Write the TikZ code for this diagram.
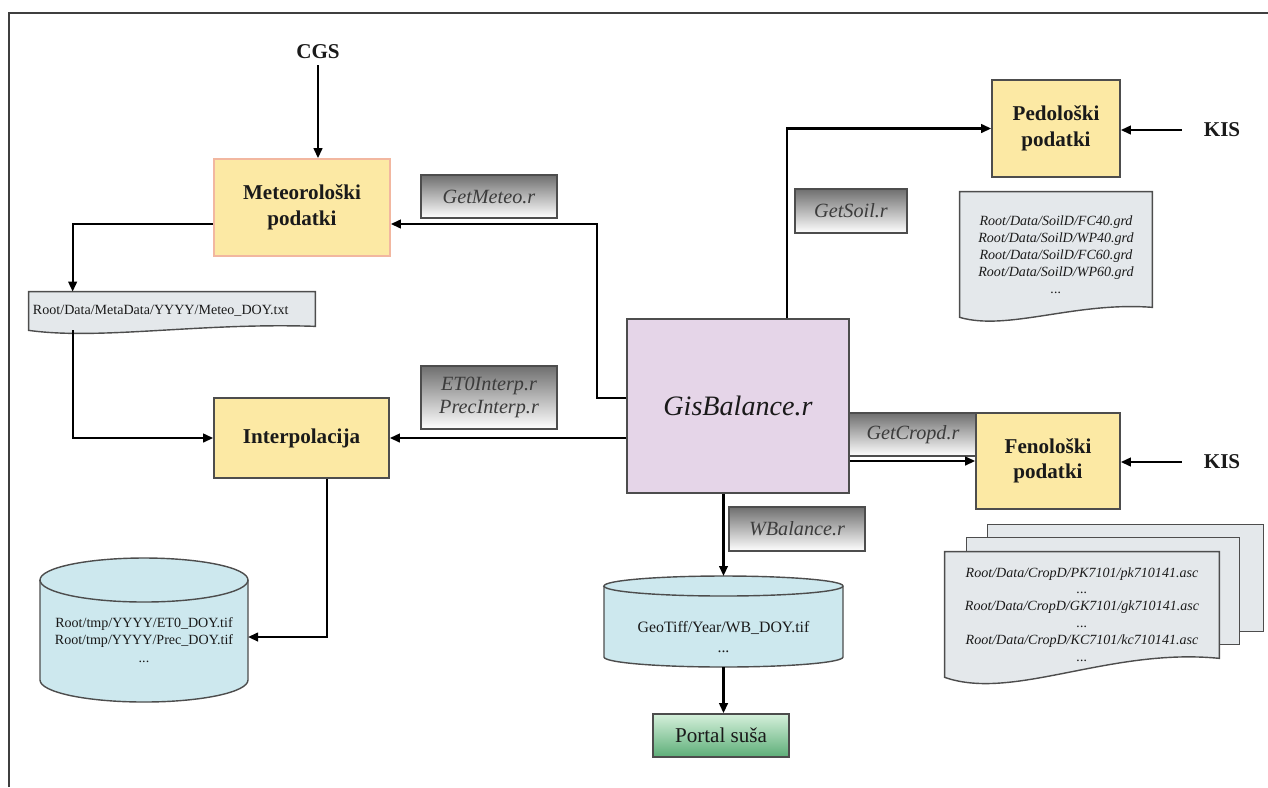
\documentclass[tikz,border=0pt]{standalone}
\usepackage{fontspec}
\setmainfont{Liberation Serif}
\usetikzlibrary{arrows.meta,calc,backgrounds}
\definecolor{ink}{HTML}{1A1A1A}
\definecolor{frameC}{HTML}{3F3F3F}
\definecolor{boxLine}{HTML}{4D4D4D}
\definecolor{dataY}{HTML}{FCE9A4}
\definecolor{meteoLine}{HTML}{F2B7A0}
\definecolor{gisFill}{HTML}{E5D5E8}
\definecolor{dbFill}{HTML}{CDE8EE}
\definecolor{docFill}{HTML}{E4E8EB}
\definecolor{scrTop}{HTML}{6F6F6F}
\definecolor{scrText}{HTML}{3C3C3C}
\definecolor{portalTop}{HTML}{D5F0DB}
\definecolor{portalBot}{HTML}{5DAE78}
\tikzset{
  >={Triangle[length=2mm,width=1.7mm]},
  flow/.style={->,line width=1.3pt,draw=black},
  frameline/.style={draw=frameC,line width=0.8pt},
  srclab/.style={font=\fontsize{12}{14}\selectfont\bfseries,text=ink,inner xsep=4.4mm},
  databox/.style={draw=boxLine,fill=dataY,line width=0.9pt,inner sep=0pt,align=center,
    font=\fontsize{12}{14.5}\selectfont\bfseries,text=ink},
  scriptbox/.style={draw=boxLine,line width=0.9pt,top color=scrTop,bottom color=white,
    inner sep=0pt,align=center,font=\fontsize{11.5}{13.5}\selectfont\itshape,text=scrText},
  portalbox/.style={draw=boxLine,line width=0.9pt,top color=portalTop,bottom color=portalBot,
    inner sep=0pt,font=\fontsize{12}{14}\selectfont,text=ink},
  docbox/.style={inner sep=0pt,align=center,font=\fontsize{8}{9.6}\selectfont\itshape,text=ink},
  docline/.style={draw=boxLine,fill=docFill,line width=0.8pt},
  dbtxt/.style={inner sep=0pt,align=center,font=\fontsize{8}{9.9}\selectfont,text=ink},
  dbline/.style={draw=boxLine,fill=dbFill,line width=0.8pt},
}

\begin{document}
\begin{tikzpicture}[x=0.2mm,y=-0.2mm]
\useasboundingbox (0,0) rectangle (1268,787);
\draw[frameline] (9,787) -- (9,13) -- (1268,13);

% ---------- left column ----------
\node[srclab] (cgs) at (318,52) {CGS};
\node[databox,draw=meteoLine,minimum width=35.2mm,minimum height=19.4mm] (meteo) at (302,207.5) {Meteorološki\\podatki};
\node[scriptbox,minimum width=27.2mm,minimum height=8.6mm] (getmeteo) at (489,196.5) {GetMeteo.r};
\node[docbox,font=\fontsize{8}{9.6}\selectfont,align=left,text width=55.6mm,minimum width=57.2mm,minimum height=7.6mm] (metdoc) at (172,311) {Root/Data/MetaData/YYYY/Meteo\_DOY.txt};
\node[databox,minimum width=35mm,minimum height=16mm] (interp) at (301.5,438) {Interpolacija};
\node[scriptbox,minimum width=27.2mm,minimum height=12.6mm] (etinterp) at (489,397.5) {ET0Interp.r\\PrecInterp.r};
\node[dbtxt] (tmpdb) at (144,640) {Root/tmp/YYYY/ET0\_DOY.tif\\Root/tmp/YYYY/Prec\_DOY.tif\\...};

% ---------- centre ----------
\node[draw=boxLine,fill=gisFill,line width=0.9pt,minimum width=44.4mm,minimum height=34.8mm,
  font=\fontsize{16}{18}\selectfont\itshape,text=ink] (gis) at (738,406) {GisBalance.r};
\node[scriptbox,minimum width=27.2mm,minimum height=8.8mm] (wbal) at (797,529) {WBalance.r};
\node[dbtxt,font=\fontsize{9}{11.3}\selectfont] (geo) at (723.5,637) {GeoTiff/Year/WB\_DOY.tif\\...};
\node[portalbox,minimum width=27.2mm,minimum height=8.6mm] (portal) at (721,735.5) {Portal suša};

% ---------- right column ----------
\node[scriptbox,minimum width=22.4mm,minimum height=8.8mm] (getsoil) at (851,211) {GetSoil.r};
\node[databox,minimum width=25.6mm,minimum height=19.4mm] (pedo) at (1056,128.5) {Pedološki\\podatki};
\node[srclab] (kisP) at (1222,130) {KIS};
\node[docbox,minimum width=38.4mm,minimum height=25mm] (soildoc) at (1056,254.5) {Root/Data/SoilD/FC40.grd\\Root/Data/SoilD/WP40.grd\\Root/Data/SoilD/FC60.grd\\Root/Data/SoilD/WP60.grd\\...};
\node[scriptbox,minimum width=25.6mm,minimum height=8.6mm] (getcropd) at (913,434.5) {GetCropd.r};
\node[databox,minimum width=28.8mm,minimum height=19.2mm] (feno) at (1048,461) {Fenološki\\podatki};
\node[srclab] (kisF) at (1222,462) {KIS};
\node[docbox,minimum width=54.8mm,minimum height=25mm] (cropdoc) at (1082,614.5) {Root/Data/CropD/PK7101/pk710141.asc\\...\\Root/Data/CropD/GK7101/gk710141.asc\\...\\Root/Data/CropD/KC7101/kc710141.asc\\...};

\coordinate (bendM) at (597,224);
\coordinate (tmpin) at ($(tmpdb)+(104,-3)$);
\coordinate (geotop) at ($(geo)+(0,-61)$);
\coordinate (geobot) at ($(geo)+(0,30)$);

% ---------- documents and stores ----------
\begin{scope}[on background layer]
\draw[docline] (metdoc.north west) -- (metdoc.north east) -- ([yshift=0.8mm]metdoc.south east)
  .. controls ($(metdoc.south west)!0.6!(metdoc.south east)+(0,-8)$) and ($(metdoc.south west)!0.25!(metdoc.south east)+(0,10)$) .. (metdoc.south west) -- cycle;
\draw[docline] (soildoc.north west) -- (soildoc.north east) -- ([yshift=2mm]soildoc.south east)
  .. controls ($(soildoc.south west)!0.6!(soildoc.south east)+(0,-16)$) and ($(soildoc.south west)!0.25!(soildoc.south east)+(0,14)$) .. (soildoc.south west) -- cycle;
\draw[docline] ($(cropdoc.north west)+(43,-27)$) rectangle ($(cropdoc.north east)+(44,80)$);
\draw[docline] ($(cropdoc.north west)+(22,-14)$) rectangle ($(cropdoc.north east)+(20,93)$);
\draw[docline] (cropdoc.north west) -- (cropdoc.north east) -- ([yshift=3.8mm]cropdoc.south east)
  .. controls ($(cropdoc.south west)!0.6!(cropdoc.south east)+(0,-30)$) and ($(cropdoc.south west)!0.25!(cropdoc.south east)+(0,24)$) .. (cropdoc.south west) -- cycle;
\draw[dbline] ($(tmpdb)+(-104,-60)$) -- ($(tmpdb)+(-104,40)$)
  arc[start angle=180,end angle=360,x radius=20.8mm,y radius=4.4mm]
  -- ($(tmpdb)+(104,-60)$) arc[start angle=0,end angle=180,x radius=20.8mm,y radius=4.4mm] -- cycle;
\draw[dbline,fill=none] ($(tmpdb)+(-104,-60)$) arc[start angle=180,end angle=360,x radius=20.8mm,y radius=4.4mm];
\draw[dbline] ($(geo)+(-119.5,-51)$) -- ($(geo)+(-119.5,20)$)
  arc[start angle=180,end angle=360,x radius=23.9mm,y radius=2mm]
  -- ($(geo)+(119.5,-51)$) arc[start angle=0,end angle=180,x radius=23.9mm,y radius=2mm] -- cycle;
\draw[dbline,fill=none] ($(geo)+(-119.5,-51)$) arc[start angle=180,end angle=360,x radius=23.9mm,y radius=2mm];
\end{scope}

% ---------- connectors ----------
\draw[flow] (cgs.south) -- (cgs.south |- meteo.north);
\draw[flow] ([yshift=1.6mm]gis.west) -| (bendM) -- (meteo.east |- bendM);
\draw[flow] ([yshift=-3.3mm]meteo.west) -| ([xshift=8.8mm]metdoc.north west);
\draw[flow] ([xshift=8.8mm]metdoc.south west) |- (interp.west);
\draw[flow] (gis.west |- interp.east) -- (interp.east);
\draw[flow] ([xshift=5.1mm]interp.south) |- (tmpin);
\draw[flow] ([xshift=9.8mm]gis.north) |- (pedo.west);
\draw[flow] (kisP.west) -- (pedo.east |- kisP.west);
\draw[flow] (gis.east |- feno.west) -- (feno.west);
\draw[flow] (kisF.west) -- (feno.east |- kisF.west);
\draw[flow] (gis.south -| geotop) -- (geotop);
\draw[flow] (geobot) -- (geobot |- portal.north);

\end{tikzpicture}
\end{document}
